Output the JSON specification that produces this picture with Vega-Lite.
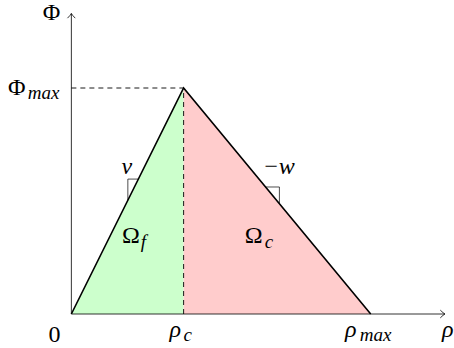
{
  "$schema": "https://vega.github.io/schema/vega-lite/v6.json",
  "width": 454,
  "height": 348,
  "padding": 0,
  "autosize": {"type": "fit", "contains": "padding"},
  "background": "white",
  "config": {"view": {"stroke": null}, "text": {"font": "Liberation Serif"}},
  "datasets": {
    "regions": [
      {"region": "f", "x": 0, "y": 0},
      {"region": "f", "x": 0.375, "y": 1},
      {"region": "c", "x": 0.375, "y": 1},
      {"region": "c", "x": 1, "y": 0}
    ],
    "tri": [
      {"x": 0, "y": 0, "o": 0},
      {"x": 0.375, "y": 1, "o": 1},
      {"x": 1, "y": 0, "o": 2}
    ],
    "dashes": [
      {"x": 0, "y": 1, "x2": 0.375, "y2": 1},
      {"x": 0.375, "y": 0, "x2": 0.375, "y2": 1}
    ],
    "axes": [
      {"x": 0, "y": 0, "x2": 1.248, "y2": 0},
      {"x": 0, "y": 0, "x2": 0, "y2": 1.3296}
    ],
    "slopes": [
      {"g": "v", "o": 0, "x": 0.1887, "y": 0.5032},
      {"g": "v", "o": 1, "x": 0.1887, "y": 0.597},
      {"g": "v", "o": 2, "x": 0.2239, "y": 0.597},
      {"g": "w", "o": 0, "x": 0.6488, "y": 0.562},
      {"g": "w", "o": 1, "x": 0.695, "y": 0.562},
      {"g": "w", "o": 2, "x": 0.695, "y": 0.488}
    ],
    "arrowx": [{"x": 1.248, "y": 0}],
    "arrowy": [{"x": 0, "y": 1.3296}],
    "upright": [
      {"x": -0.0762, "y": -0.1239, "t": "0"},
      {"x": -0.096, "y": 1.2987, "t": "Φ"},
      {"x": -0.2119, "y": 0.969, "t": "Φ"},
      {"x": 0.1689, "y": 0.3142, "t": "Ω"},
      {"x": 0.5795, "y": 0.3142, "t": "Ω"}
    ],
    "italic": [
      {"x": 0.3278, "y": -0.1018, "t": "ρ"},
      {"x": 0.9139, "y": -0.1018, "t": "ρ"},
      {"x": 1.2384, "y": -0.1018, "t": "ρ"},
      {"x": 0.1672, "y": 0.6195, "t": "v"},
      {"x": 0.6391, "y": 0.6195, "t": "−w"}
    ],
    "subs": [
      {"x": 0.3742, "y": -0.1195, "t": "c"},
      {"x": 0.9636, "y": -0.1195, "t": "max"},
      {"x": -0.1457, "y": 0.951, "t": "max"},
      {"x": 0.2318, "y": 0.292, "t": "f"},
      {"x": 0.6457, "y": 0.292, "t": "c"}
    ]
  },
  "encoding": {
    "x": {"field": "x", "type": "quantitative", "scale": {"domain": [-0.2384, 1.2649], "nice": false, "zero": false}, "axis": null},
    "y": {"field": "y", "type": "quantitative", "scale": {"domain": [-0.1504, 1.3894], "nice": false, "zero": false}, "axis": null}
  },
  "layer": [
    {
      "data": {"name": "regions"},
      "mark": {"type": "area", "opacity": 1, "interpolate": "linear"},
      "encoding": {
        "y2": {"datum": 0},
        "color": {"field": "region", "type": "nominal", "scale": {"domain": ["f", "c"], "range": ["#ccffcc", "#ffcccc"]}, "legend": null}
      }
    },
    {
      "data": {"name": "axes"},
      "mark": {"type": "rule", "color": "#000000", "strokeWidth": 0.8},
      "encoding": {"x2": {"field": "x2"}, "y2": {"field": "y2"}}
    },
    {
      "data": {"name": "dashes"},
      "mark": {"type": "rule", "color": "#000000", "strokeWidth": 0.9, "strokeDash": [5, 4]},
      "encoding": {"x2": {"field": "x2"}, "y2": {"field": "y2"}}
    },
    {
      "data": {"name": "tri"},
      "mark": {"type": "line", "color": "#000000", "strokeWidth": 1.6, "strokeJoin": "miter"},
      "encoding": {"order": {"field": "o", "type": "quantitative"}}
    },
    {
      "data": {"name": "slopes"},
      "mark": {"type": "line", "color": "#000000", "strokeWidth": 0.7},
      "encoding": {"detail": {"field": "g", "type": "nominal"}, "order": {"field": "o", "type": "quantitative"}}
    },
    {
      "data": {"name": "arrowx"},
      "mark": {"type": "point", "shape": "M-1.2,-1Q-0.4,-0.2,0,0Q-0.4,0.2,-1.2,1", "size": 60, "filled": false, "stroke": "#000000", "strokeWidth": 0.8, "opacity": 1},
      "encoding": {}
    },
    {
      "data": {"name": "arrowy"},
      "mark": {"type": "point", "shape": "M-1,1.2Q-0.2,0.4,0,0Q0.2,0.4,1,1.2", "size": 60, "filled": false, "stroke": "#000000", "strokeWidth": 0.8, "opacity": 1},
      "encoding": {}
    },
    {
      "data": {"name": "upright"},
      "mark": {"type": "text", "font": "Liberation Serif", "fontSize": 24, "align": "left", "baseline": "alphabetic", "color": "#000000"},
      "encoding": {"text": {"field": "t"}}
    },
    {
      "data": {"name": "italic"},
      "mark": {"type": "text", "font": "Liberation Serif", "fontSize": 24, "fontStyle": "italic", "align": "left", "baseline": "alphabetic", "color": "#000000"},
      "encoding": {"text": {"field": "t"}}
    },
    {
      "data": {"name": "subs"},
      "mark": {"type": "text", "font": "Liberation Serif", "fontSize": 19, "fontStyle": "italic", "align": "left", "baseline": "alphabetic", "color": "#000000"},
      "encoding": {"text": {"field": "t"}}
    }
  ]
}
